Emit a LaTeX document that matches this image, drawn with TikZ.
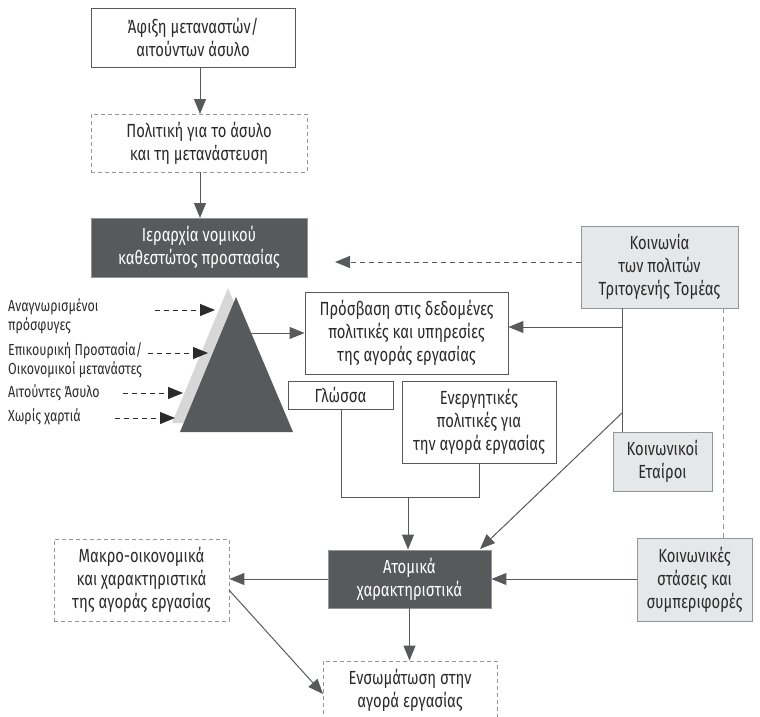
\documentclass[tikz,border=0pt]{standalone}
\usepackage{fontspec}
\setmainfont{Fira Sans}[FakeStretch=0.78]
\usetikzlibrary{arrows.meta}
\definecolor{lc}{HTML}{58595B}
\definecolor{darkf}{HTML}{58595B}
\definecolor{lightf}{HTML}{E6E7E8}
\definecolor{bordg}{HTML}{939598}
\definecolor{txt}{HTML}{2B2B2B}
\tikzset{
  x=1pt,y=-1pt,
  base/.style={inner sep=0pt, align=center, text=txt, font=\fontsize{19}{23}\selectfont},
  whitebox/.style={base, draw=lc, line width=0.9pt, fill=white},
  dashbox/.style={base, draw=bordg, line width=0.9pt, dash pattern=on 4pt off 3pt, fill=white},
  darkbox/.style={base, draw=bordg, line width=0.9pt, fill=darkf, text=white},
  lightbox/.style={base, draw=bordg, line width=1pt, fill=lightf},
  conn/.style={draw=lc, line width=1pt, -{Triangle[length=15pt,width=12pt]}},
  dconn/.style={draw=txt, line width=0.9pt, dash pattern=on 5pt off 4pt, -{Triangle[length=15pt,width=12pt]}},
  plain/.style={draw=lc, line width=1pt},
  dplain/.style={draw=bordg, line width=1pt, dash pattern=on 5pt off 4pt},
  lbl/.style={inner sep=0pt, anchor=west, align=left, text=txt, font=\fontsize{16}{19}\selectfont},
}
\begin{document}
\begin{tikzpicture}
\useasboundingbox (0,0) rectangle (760,717);
% triangles
\fill[lightf!85!gray] (228,288) -- (172,423) -- (285,423) -- cycle;
\fill[darkf] (236,297) -- (180,432) -- (293,432) -- cycle;
\coordinate (tri) at (251,333);

\node[whitebox, minimum width=204pt, minimum height=59pt] (afixi) at (193,37.5) {Άφιξη μεταναστών/\\αιτούντων άσυλο};
\node[dashbox, minimum width=216pt, minimum height=58pt] (pol) at (199,143) {Πολιτική για το άσυλο\\και τη μετανάστευση};
\node[darkbox, minimum width=216pt, minimum height=59pt] (ier) at (199,247.5) {Ιεραρχία νομικού\\καθεστώτος προστασίας};
\node[lightbox, minimum width=157pt, minimum height=82pt] (koin) at (659.5,267) {Κοινωνία\\των πολιτών\\Τριτογενής Τομέας};
\node[whitebox, minimum width=203pt, minimum height=82pt] (pros) at (406.5,333) {Πρόσβαση στις δεδομένες\\πολιτικές και υπηρεσίες\\της αγοράς εργασίας};
\node[whitebox, minimum width=105pt, minimum height=28pt] (glo) at (340.5,395) {Γλώσσα};
\node[whitebox, minimum width=154pt, minimum height=82pt] (ener) at (479,422) {Ενεργητικές\\πολιτικές για\\την αγορά εργασίας};
\node[lightbox, minimum width=99pt, minimum height=59pt] (etai) at (662.5,461.5) {Κοινωνικοί\\Εταίροι};
\node[darkbox, minimum width=163pt, minimum height=58pt] (atom) at (409.5,579) {Ατομικά\\χαρακτηριστικά};
\node[dashbox, minimum width=175pt, minimum height=82pt] (makro) at (141.5,580) {Μακρο-οικονομικά\\και χαρακτηριστικά\\της αγοράς εργασίας};
\node[lightbox, minimum width=115pt, minimum height=83pt] (kst) at (694.5,579.5) {Κοινωνικές\\στάσεις και\\συμπεριφορές};
\node[dashbox, minimum width=174pt, minimum height=58pt] (ens) at (410,690) {};
\node[base] (enst) at (410,690) {Ενσωμάτωση στην\\αγορά εργασίας};

% left labels
\node[lbl] (l1) at (8,316) {Αναγνωρισμένοι\\πρόσφυγες};
\node[lbl] (l2) at (8,360) {Επικουρική Προστασία/\\Οικονομικοί μετανάστες};
\node[lbl] (l3) at (8,393) {Αιτούντες Άσυλο};
\node[lbl] (l4) at (8,417) {Χωρίς χαρτιά};
\coordinate (a1s) at (155,310); \coordinate (a1e) at (215,310);
\coordinate (a2s) at (148,353); \coordinate (a2e) at (208,353);
\coordinate (a3s) at (123,393); \coordinate (a3e) at (183,393);
\coordinate (a4s) at (115,418); \coordinate (a4e) at (175,418);
\draw[dconn] (a1s) -- (a1e);
\draw[dconn] (a2s) -- (a2e);
\draw[dconn] (a3s) -- (a3e);
\draw[dconn] (a4s) -- (a4e);

% main flow
\coordinate (p1) at (200,67); \coordinate (p2) at (200,114);
\coordinate (p3) at (200,172); \coordinate (p4) at (200,218);
\draw[conn] (p1) -- (p2);
\draw[conn] (p3) -- (p4);
\coordinate (kw) at (581,262);
\coordinate (kt) at (335,262);
\draw[dconn, draw=lc] (kw) -- (kt);
\draw[conn] (tri) -- (pros.west);

\coordinate (kv1) at (622,308);
\coordinate (kv2) at (622,327);
\coordinate (kv3) at (622,413);
\coordinate (kv4) at (622,432);
\draw[plain] (kv1) -- (kv4);
\draw[conn] (kv2) -- (pros.east |- kv2);
\coordinate (atr) at (480,549);
\draw[conn] (kv3) -- (atr);

\coordinate (g1) at (341,497);
\coordinate (g2) at (479,497);
\coordinate (g3) at (408,497);
\draw[plain] (glo.south -| g1) -- (g1) -- (g2) -- (ener.south -| g2);
\draw[conn] (g3) -- (atom.north -| g3);

\draw[conn] (kst.west |- atom.east) -- (atom.east);
\draw[conn] (atom.west) -- (makro.east |- atom.west);
\draw[conn] (atom.south) -- (ens.north -| atom.south);
\coordinate (m1) at (229,590);
\coordinate (m2) at (323,694);
\draw[conn] (m1) -- (m2);
\coordinate (dv1) at (723,308);
\coordinate (dv2) at (723,538);
\draw[dplain] (dv1) -- (dv2);
\end{tikzpicture}
\end{document}
